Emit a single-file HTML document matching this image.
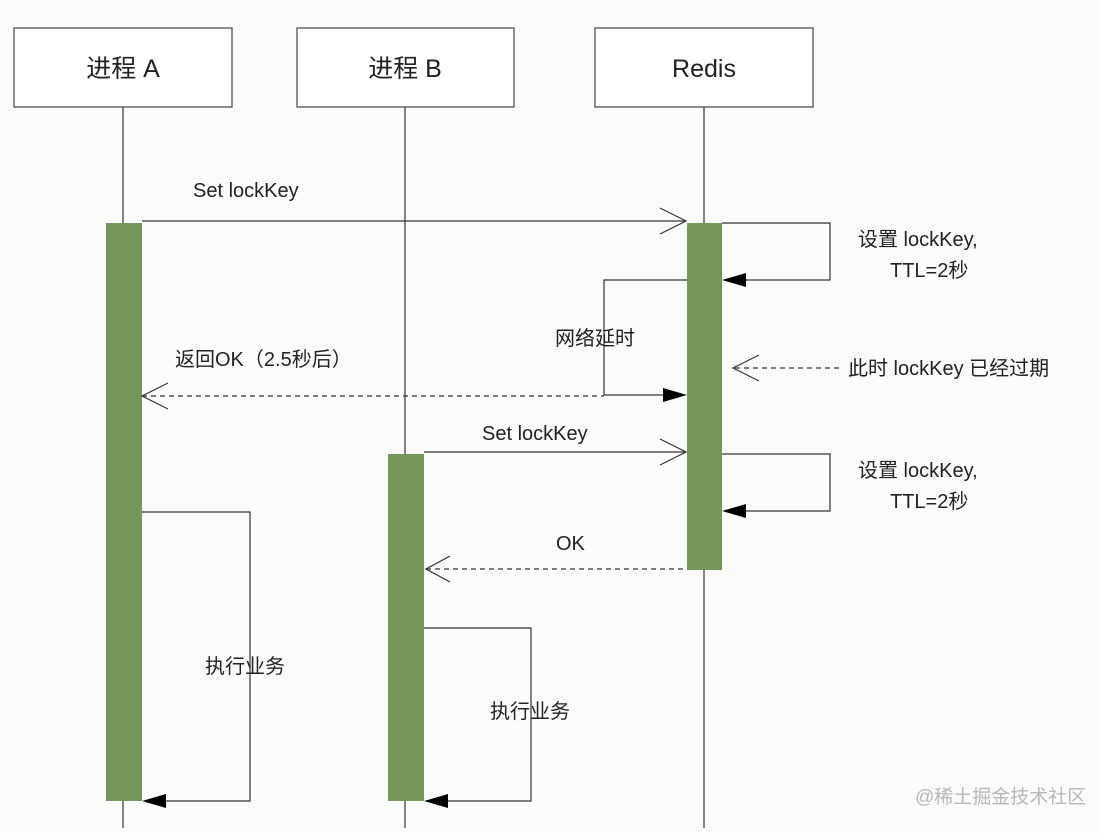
<!DOCTYPE html>
<html><head><meta charset="utf-8"><style>
html,body{margin:0;padding:0;background:#fbfbfb;}
svg text{font-family:"Liberation Sans","Noto Sans CJK SC",sans-serif;fill:#222;}
</style></head><body>
<svg width="1100" height="828" viewBox="0 0 1100 828" xmlns="http://www.w3.org/2000/svg">
<rect width="1100" height="828" fill="#fbfbfb"/>
<g fill="#fff" stroke="#444" stroke-width="1.2">
<rect x="14" y="28" width="218" height="79"/>
<rect x="297" y="28" width="217" height="79"/>
<rect x="595" y="28" width="218" height="79"/>
</g>
<g font-size="25" text-anchor="middle">
<text x="123" y="77">进程 A</text>
<text x="405" y="77">进程 B</text>
<text x="704" y="77">Redis</text>
</g>
<g stroke="#333" stroke-width="1.2" fill="none">
<line x1="123" y1="107" x2="123" y2="828"/>
<line x1="405" y1="107" x2="405" y2="828"/>
<line x1="704" y1="107" x2="704" y2="828"/>
</g>
<g fill="#76975c">
<rect x="106" y="223" width="36" height="578"/>
<rect x="388" y="454" width="36" height="347"/>
<rect x="687" y="223" width="35" height="347"/>
</g>
<g stroke="#333" stroke-width="1.2" fill="none">
<line x1="142" y1="221" x2="686" y2="221"/>
<polyline points="660,208 686,221 660,234"/>
<polyline points="722,223 830,223 830,280 735,280"/>
<polyline points="722,454 830,454 830,511 735,511"/>
<polyline points="687,280 604,280 604,395 670,395"/>
<line x1="142" y1="396" x2="604" y2="396" stroke-dasharray="5,4"/>
<polyline points="168,383 142,396 168,409"/>
<line x1="735" y1="368" x2="840" y2="368" stroke-dasharray="5,4"/>
<polyline points="759,355 733,368 759,381"/>
<line x1="424" y1="452" x2="686" y2="452"/>
<polyline points="660,439 686,452 660,465"/>
<line x1="426" y1="569" x2="687" y2="569" stroke-dasharray="5,4"/>
<polyline points="450,556 426,569 450,582"/>
<polyline points="142,512 250,512 250,801 158,801"/>
<polyline points="424,628 531,628 531,801 440,801"/>
</g>
<g fill="#000">
<polygon points="722,280 746,273 746,287"/>
<polygon points="722,511 746,504 746,518"/>
<polygon points="687,395 663,388 663,402"/>
<polygon points="142,801 166,794 166,808"/>
<polygon points="424,801 448,794 448,808"/>
</g>
<g font-size="20">
<text x="193" y="197">Set lockKey</text>
<text x="858" y="246">设置 lockKey,</text>
<text x="890" y="277">TTL=2秒</text>
<text x="555" y="345">网络延时</text>
<text x="175" y="366">返回OK（2.5秒后）</text>
<text x="848" y="375">此时 lockKey 已经过期</text>
<text x="482" y="440">Set lockKey</text>
<text x="858" y="477">设置 lockKey,</text>
<text x="890" y="508">TTL=2秒</text>
<text x="556" y="550">OK</text>
<text x="205" y="673">执行业务</text>
<text x="490" y="718">执行业务</text>
</g>
<text x="915" y="803" font-size="19" style="fill:#b8b8b8">@稀土掘金技术社区</text>
</svg>
</body></html>
